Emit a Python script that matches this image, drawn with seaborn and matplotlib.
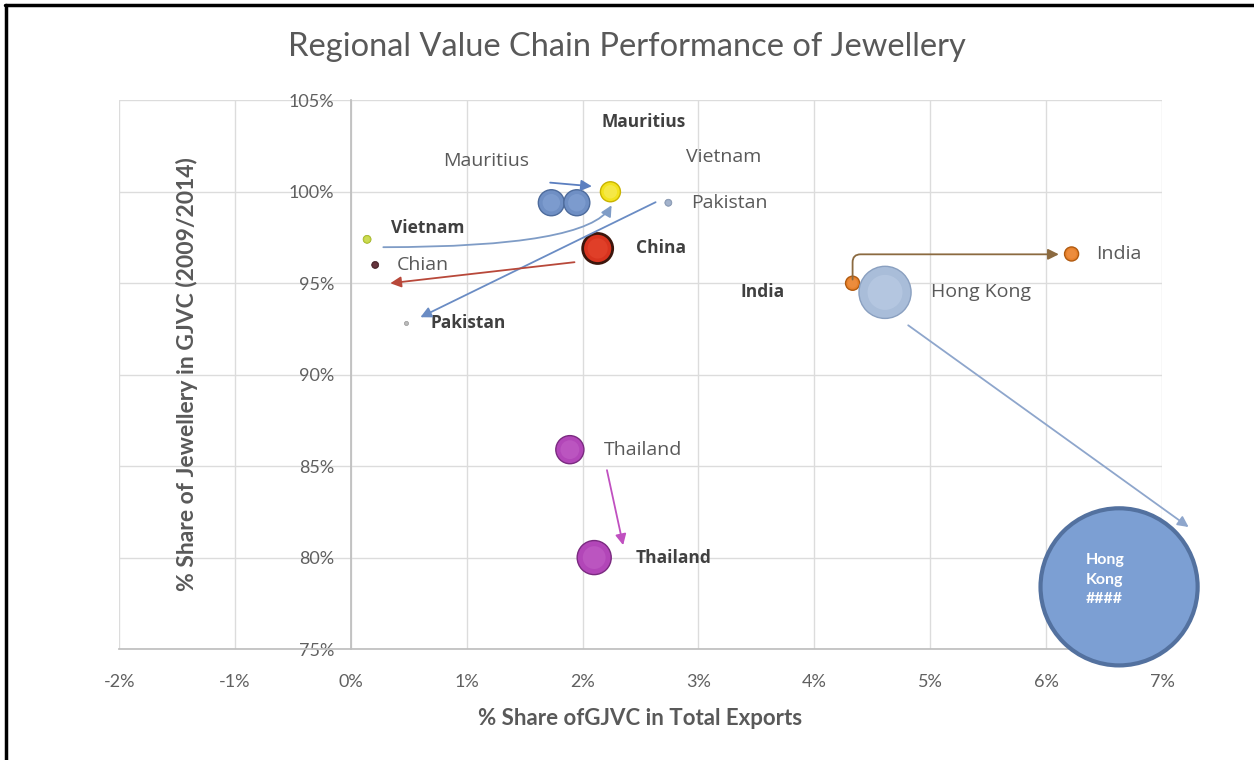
import matplotlib.pyplot as plt
import matplotlib.ticker as mticker
from matplotlib.lines import Line2D
import pandas as pd
import seaborn as sns

# bubble data (shares in %, bubble = relative export size)
points = ["Mauritius a", "Mauritius b", "Vietnam b", "Pakistan a", "Pakistan b",
          "Vietnam a", "Chian", "China", "India a", "India b",
          "Hong Kong a", "Hong Kong b", "Thailand a", "Thailand b"]
gjvc_share = [1.73, 1.95, 2.24, 2.74, 0.48, 0.14, 0.21, 2.13, 4.33, 6.22, 4.61, 6.63, 1.89, 2.10]
jewel_share = [99.4, 99.4, 100.0, 99.4, 92.8, 97.4, 96.0, 96.9, 95.0, 96.6, 94.5, 78.4, 85.9, 80.0]
bubble = [2.74, 2.74, 1.62, 0.20, 0.07, 0.26, 0.20, 3.65, 0.80, 0.80, 11.0, 100.0, 3.2, 4.7]

colors = {
    "Mauritius a": "#6f8fc4", "Mauritius b": "#6f8fc4", "Vietnam b": "#f3e31e",
    "Pakistan a": "#98a9c4", "Pakistan b": "#b4b4b4", "Vietnam a": "#c4d63c",
    "Chian": "#5b2b33", "China": "#d8341f", "India a": "#e9822c", "India b": "#e9822c",
    "Hong Kong a": "#a9bdd9", "Hong Kong b": "#7c9fd3", "Thailand a": "#b246b8",
    "Thailand b": "#b246b8",
}
shine = {
    "Mauritius a": "#8aa8d8", "Mauritius b": "#8aa8d8", "Vietnam b": "#f8ee70",
    "Pakistan a": "#b0bed4", "Pakistan b": "#c4c4c4", "Vietnam a": "#d4e070",
    "Chian": "#70404a", "China": "#e84a32", "India a": "#f0964e", "India b": "#f0964e",
    "Hong Kong a": "#c0d0e8", "Hong Kong b": "#7c9fd3", "Thailand a": "#c464c8",
    "Thailand b": "#c464c8",
}
edges = ["#4d6b9c", "#4d6b9c", "#c9b400", "#7d8ea8", "#999999", "#9aab20", "#3a1a20",
         "#3c160c", "#b05a10", "#b05a10", "#8aa0c0", "#53719f", "#7a2a80", "#7a2a80"]
edge_w = [1, 1, 1, 0.5, 0.5, 0.5, 0.5, 2, 1, 1, 1, 3, 1, 1]

df = pd.DataFrame({"point": points, "x": gjvc_share, "y": jewel_share, "bubble": bubble})

# point labels: text, left x, y, bold
labels = [
    ("Mauritius", 2.16, 103.8, True), ("Mauritius", 0.80, 101.7, False),
    ("Vietnam", 2.89, 101.9, False), ("Pakistan", 2.94, 99.4, False),
    ("Vietnam", 0.35, 98.0, True), ("China", 2.46, 96.9, True),
    ("Chian", 0.40, 96.0, False), ("Pakistan", 0.69, 92.8, True),
    ("India", 3.36, 94.5, True), ("India", 6.43, 96.6, False),
    ("Hong Kong", 5.01, 94.5, False), ("Thailand", 2.18, 85.9, False),
    ("Thailand", 2.46, 80.0, True),
]

# arrows: start, end, colour, connection style
arrows = [
    ((1.72, 100.5), (2.08, 100.3), "#5b7fc0", "arc3"),
    ((0.28, 96.97), (2.25, 99.26), "#7f9cc6", "angle3,angleA=0,angleB=60"),
    ((2.63, 99.43), (0.60, 93.14), "#6a8cc4", "arc3"),
    ((1.93, 96.15), (0.34, 95.0), "#b8483a", "arc3"),
    ((4.33, 95.2), (6.11, 96.58), "#8b6a40", "angle,angleA=90,angleB=0,rad=8"),
    ((4.81, 92.7), (7.23, 81.67), "#8ea6cc", "arc3"),
    ((2.21, 84.78), (2.35, 80.68), "#c050c0", "arc3"),
]

sns.set_theme(style="whitegrid")
plt.rcParams["font.family"] = ["Lato", "DejaVu Sans"]

fig, ax = plt.subplots(figsize=(12.54, 7.6), dpi=100)
fig.subplots_adjust(left=0.095, right=0.9266, bottom=0.146, top=0.868)
ax.set_facecolor("white")

sns.scatterplot(
    data=df, x="x", y="y", hue="point", palette=colors, size="bubble",
    sizes=(0, 12800), size_norm=(0, 100), edgecolor=edges, linewidth=edge_w,
    legend=False, ax=ax, clip_on=False, zorder=3,
)
# soft highlight on the small spheres (not the flat Hong Kong disc)
spheres = df[df["point"] != "Hong Kong b"]
sns.scatterplot(
    data=spheres, x="x", y="y", hue="point", palette=shine, size="bubble",
    sizes=(0, 12800 * 0.45), size_norm=(0, 100), linewidth=0, alpha=0.5,
    legend=False, ax=ax, clip_on=False, zorder=3.5,
)

ax.set_xlim(-2, 7)
ax.set_ylim(75, 105)
ax.xaxis.set_major_locator(mticker.MultipleLocator(1))
ax.yaxis.set_major_locator(mticker.MultipleLocator(5))
ax.xaxis.set_major_formatter(mticker.FuncFormatter(lambda v, p: f"{v:.0f}%"))
ax.yaxis.set_major_formatter(mticker.FuncFormatter(lambda v, p: f"{v:.0f}%"))
ax.grid(color="#dcdcdc", linewidth=1)
for side in ["top", "right"]:
    ax.spines[side].set_visible(False)
ax.spines["left"].set_position(("data", 0))
ax.spines["left"].set_color("#bfbfbf")
ax.spines["bottom"].set_color("#bfbfbf")
ax.tick_params(axis="x", length=0, pad=18, labelsize=13, labelcolor="#606060")
ax.tick_params(axis="y", length=0, pad=12, labelsize=13, labelcolor="#606060")

ax.set_xlabel("% Share ofGJVC in Total Exports", fontsize=16, fontweight="bold", color="#595959")
ax.set_ylabel("% Share of Jewellery in GJVC (2009/2014)", fontsize=16.5, fontweight="bold", color="#595959")
ax.xaxis.set_label_coords(0.4995, -0.107)
ax.yaxis.set_label_coords(0.076, 0.502)

for text, lx, ly, bold in labels:
    ax.text(lx, ly, text, ha="left", va="center",
            fontsize=12.5 if bold else 14,
            fontweight="bold" if bold else "normal",
            family=["Open Sans", "DejaVu Sans"],
            color="#404040" if bold else "#595959", zorder=4)

ax.text(6.34, 78.8, "Hong\nKong\n####", ha="left", va="center", fontsize=11.5,
        fontweight="bold", color="white", linespacing=1.5, zorder=5)

for start, end, col, style in arrows:
    ax.annotate("", xy=end, xytext=start, zorder=4, annotation_clip=False,
                arrowprops=dict(arrowstyle="-|>", color=col, lw=1.3,
                                mutation_scale=16, connectionstyle=style,
                                shrinkA=0, shrinkB=0))

fig.text(0.4996, 1 - 47 / 760, "Regional Value Chain Performance of Jewellery",
         ha="center", va="center", fontsize=23.5, color="#595959")

# black frame on top and left edge
fig.add_artist(Line2D([0.004, 1.0], [0.9935, 0.9935], color="black", lw=2.5))
fig.add_artist(Line2D([0.0045, 0.0045], [0.0, 0.9935], color="black", lw=2.5))

fig.savefig("out.png", dpi=100)
